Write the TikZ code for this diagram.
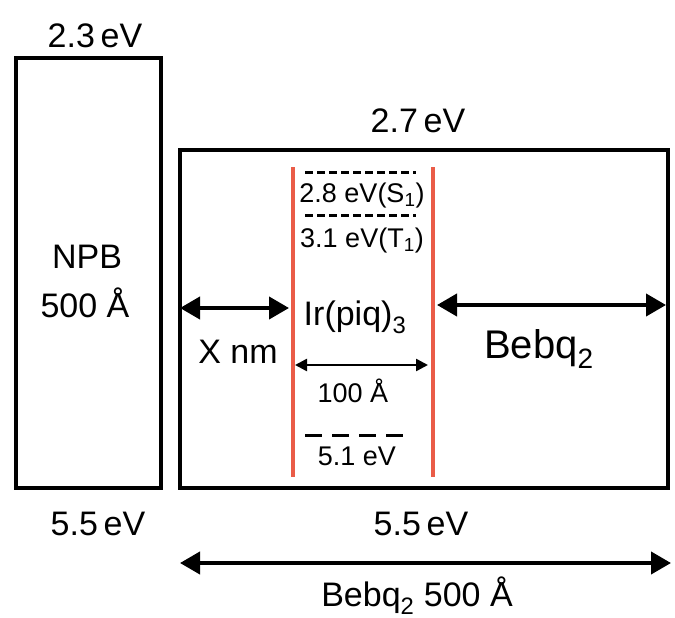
\documentclass[tikz,border=0pt]{standalone}
\usepackage{fontspec}
\setmainfont{Liberation Sans}
\usetikzlibrary{positioning,arrows.meta,calc}
\definecolor{redlayer}{RGB}{234,92,72}

\begin{document}
\begin{tikzpicture}[x=1pt,y=-1pt,
		layer_box/.style={draw=black,line width=3.5pt,inner sep=0pt},
		big_label/.style={font=\fontsize{34}{40}\selectfont,inner sep=0pt,anchor=base},
		huge_label/.style={font=\fontsize{40}{46}\selectfont,inner sep=0pt,anchor=base},
		small_label/.style={font=\fontsize{27}{32}\selectfont,inner sep=0pt,anchor=base},
		red_line/.style={draw=redlayer,line width=4pt},
		level_dash/.style={line width=3pt,dash pattern=on 8pt off 4pt},
		homo_dash/.style={line width=3pt,dash pattern=on 17pt off 10pt},
		span_arrow/.style={line width=4pt,{Triangle[length=20pt,width=22pt]}-{Triangle[length=20pt,width=22pt]}},
		thin_arrow/.style={line width=2.5pt,{Triangle[length=12pt,width=12pt]}-{Triangle[length=12pt,width=12pt]}}
		]
		\useasboundingbox (0,0) rectangle (675,618);
		
		% layers
		\node[layer_box, minimum width=145pt, minimum height=430pt] (npb) at (88.5,273) {};
		\node[layer_box, minimum width=488pt, minimum height=338pt] (bebq) at (424,319) {};
		
		\coordinate (ir_lt) at (293,167); \coordinate (ir_lb) at (293,477);
		\coordinate (ir_rt) at (433,167); \coordinate (ir_rb) at (433,477);
		\draw[red_line] (ir_lt) -- (ir_lb); \draw[red_line] (ir_rt) -- (ir_rb);
		
		% levels of the dopant
		\coordinate (s1_l) at (305,172); \coordinate (s1_r) at (416,172);
		\coordinate (t1_l) at (305,215); \coordinate (t1_r) at (416,215);
		\coordinate (homo_l) at (305,435); \coordinate (homo_r) at (412,435);
		\draw[level_dash] (s1_l) -- (s1_r); \draw[level_dash] (t1_l) -- (t1_r);
		\draw[homo_dash] (homo_l) -- (homo_r);
		
		% widths
		\coordinate (x_l) at (180,308); \coordinate (x_r) at (289,308);
		\coordinate (b_l) at (437,305); \coordinate (b_r) at (666,305);
		\coordinate (d_l) at (295,365); \coordinate (d_r) at (428,365);
		\coordinate (tot_l) at (180,563); \coordinate (tot_r) at (671,563);
		\draw[span_arrow] (x_l) -- (x_r); \draw[span_arrow] (b_l) -- (b_r);
		\draw[thin_arrow] (d_l) -- (d_r); \draw[span_arrow] (tot_l) -- (tot_r);
		
		% labels
		\node[big_label] (npb_lumo) at (95,48) {2.3\,eV};
		\node[big_label] (npb_homo) at (98,535) {5.5\,eV};
		\node[big_label] (npb_name) at (87,268) {NPB};
		\node[big_label] (npb_thick) at (85,317) {500 Å};
		\node[big_label] (bebq_lumo) at (418,132) {2.7\,eV};
		\node[big_label] (bebq_homo) at (421,535) {5.5\,eV};
		\node[big_label] (bebq_thick) at (417,606) {Bebq\textsubscript{2} 500 Å};
		\node[big_label] (x_label) at (238,363) {X nm};
		\node[huge_label] (bebq_name) at (539,358) {Bebq\textsubscript{2}};
		\node[big_label] (ir_name) at (355,325) {Ir(piq)\textsubscript{3}};
		\node[small_label] (s1_label) at (362,202) {2.8 eV(S\textsubscript{1})};
		\node[small_label] (t1_label) at (362,247) {3.1 eV(T\textsubscript{1})};
		\node[small_label] (d_label) at (353,402) {100 Å};
		\node[small_label] (homo_label) at (357,465) {5.1 eV};
	\end{tikzpicture}
\end{document}
